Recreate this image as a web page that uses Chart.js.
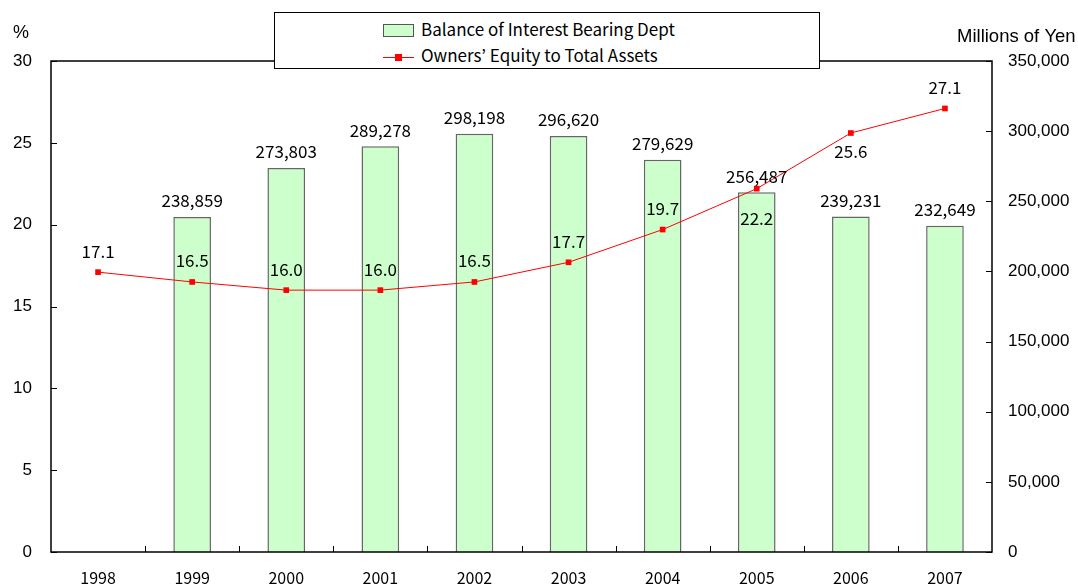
<!DOCTYPE html>
<html><head><meta charset="utf-8">
<script src="https://cdn.jsdelivr.net/npm/chart.js@4"></script>
<style>
html,body{margin:0;padding:0;background:#fff;}
#wrap{position:relative;width:1078px;height:588px;}
#legend{position:absolute;left:274px;top:12px;width:544px;height:55px;border:1px solid #000;background:#fff;
font-family:"Noto Sans CJK JP","DejaVu Sans",sans-serif;font-size:17px;color:#000;}
.li{position:absolute;left:108px;height:20px;line-height:20px;white-space:nowrap;}
.sw{display:inline-block;vertical-align:middle;margin-right:7px;position:relative;}
</style></head>
<body><div id="wrap"><canvas id="c" width="1078" height="588"></canvas>
<div id="legend">
<div class="li" style="top:6px"><span class="sw" style="width:29px;height:11px;background:#ccffcc;border:1px solid #555;top:-1px"></span><span id="l1"></span></div>
<div class="li" style="top:32px"><span class="sw" style="width:31px;height:13px;"><span style="position:absolute;left:0;top:6px;width:31px;height:1px;background:#ff0000"></span><span style="position:absolute;left:12px;top:3px;width:7px;height:7px;background:#ff0000"></span></span><span id="l2"></span></div>
</div></div>
<script>
const categories = ['1998','1999','2000','2001','2002','2003','2004','2005','2006','2007'];
const debtValues = [null,238859,273803,289278,298198,296620,279629,256487,239231,232649];
const equityRatio = [17.1,16.5,16.0,16.0,16.5,17.7,19.7,22.2,25.6,27.1];
const seriesNames = ['Balance of Interest Bearing Dept','Owners\u2019 Equity to Total Assets'];
const leftTitle = '%';
const rightTitle = 'Millions of Yen';
// label placement for line values (styling only)
const lineLabelSide = ['up','up','up','up','up','up','up','down','down','up'];

document.getElementById('l1').textContent = seriesNames[0];
document.getElementById('l2').textContent = seriesNames[1];

const labelFont = '17px "Noto Sans CJK JP", "DejaVu Sans", sans-serif';
const axisFont = {family:'"Liberation Sans", Arial, sans-serif', size:17};

const extras = {
  id:'extras',
  afterDatasetsDraw(chart){
    const ctx = chart.ctx, a = chart.chartArea;
    ctx.save();
    // frame
    ctx.strokeStyle = '#000'; ctx.lineWidth = 1.5;
    ctx.strokeRect(a.left, a.top, a.right - a.left, a.bottom - a.top);
    // x ticks pointing inward, at category boundaries
    const xs = chart.scales.x;
    ctx.lineWidth = 1;
    for (let i = 1; i < categories.length; i++) {
      const px = (xs.getPixelForValue(i-1) + xs.getPixelForValue(i)) / 2;
      ctx.beginPath(); ctx.moveTo(Math.round(px)+0.5, a.bottom); ctx.lineTo(Math.round(px)+0.5, a.bottom-6); ctx.stroke();
    }
    // y ticks pointing inward
    const yl = chart.scales.y, yr = chart.scales.y1;
    yl.ticks.forEach(t => {
      const py = Math.round(yl.getPixelForValue(t.value)) + 0.5;
      ctx.beginPath(); ctx.moveTo(a.left, py); ctx.lineTo(a.left + 6, py); ctx.stroke();
    });
    yr.ticks.forEach(t => {
      const py = Math.round(yr.getPixelForValue(t.value)) + 0.5;
      ctx.beginPath(); ctx.moveTo(a.right, py); ctx.lineTo(a.right - 6, py); ctx.stroke();
    });
    // data labels
    ctx.fillStyle = '#000'; ctx.font = labelFont; ctx.textAlign = 'center'; ctx.textBaseline = 'middle';
    const barMeta = chart.getDatasetMeta(0);
    barMeta.data.forEach((el, i) => {
      const v = debtValues[i];
      if (v == null) return;
      ctx.fillText(v.toLocaleString('en-US'), el.x, el.y - 16);
    });
    const lineMeta = chart.getDatasetMeta(1);
    lineMeta.data.forEach((el, i) => {
      const v = equityRatio[i];
      const dy = lineLabelSide[i] === 'up' ? -21 : (i === 7 ? 30 : 19);
      ctx.fillText(v.toFixed(1), el.x, el.y + dy);
    });
    // axis titles
    ctx.font = '18px "Liberation Sans", Arial, sans-serif';
    ctx.textAlign = 'left';
    ctx.fillText(leftTitle, 13, 33);
    ctx.font = '18.5px "Liberation Sans", Arial, sans-serif';
    ctx.fillText(rightTitle, 957, 37);
    ctx.restore();
  }
};

new Chart(document.getElementById('c'), {
  data: {
    labels: categories,
    datasets: [
      {type:'bar', label:seriesNames[0], data:debtValues, yAxisID:'y1',
       backgroundColor:'#ccffcc', borderColor:'#666666', borderWidth:{top:1.5,left:1.5,right:1.5,bottom:0},
       barPercentage:0.8, categoryPercentage:0.5, order:2},
      {type:'line', label:seriesNames[1], data:equityRatio, yAxisID:'y',
       borderColor:'#ff0000', backgroundColor:'#ff0000', borderWidth:1, tension:0,
       pointStyle:'rect', pointRadius:4, pointBorderWidth:0, order:1}
    ]
  },
  options: {
    responsive:false, animation:false,
    layout:{padding:{top:61,left:0,right:0,bottom:0}},
    plugins:{legend:{display:false}, tooltip:{enabled:false}},
    scales:{
      x:{offset:true, grid:{display:false}, border:{display:false},
         ticks:{color:'#000', font:{family:'"Noto Sans CJK JP", sans-serif', size:16}, padding:8, maxRotation:0},
         afterFit(s){ s.height = 36; }},
      y:{position:'left', min:0, max:30, grid:{display:false}, border:{display:false},
         ticks:{stepSize:5, color:'#000', font:axisFont, padding:11},
         afterFit(s){ s.width = 51; }},
      y1:{position:'right', min:0, max:350000, grid:{display:false}, border:{display:false},
         ticks:{stepSize:50000, color:'#000', font:axisFont, padding:8,
                callback:v => v.toLocaleString('en-US')},
         afterFit(s){ s.width = 86; }}
    }
  },
  plugins:[extras]
});
</script></body></html>
